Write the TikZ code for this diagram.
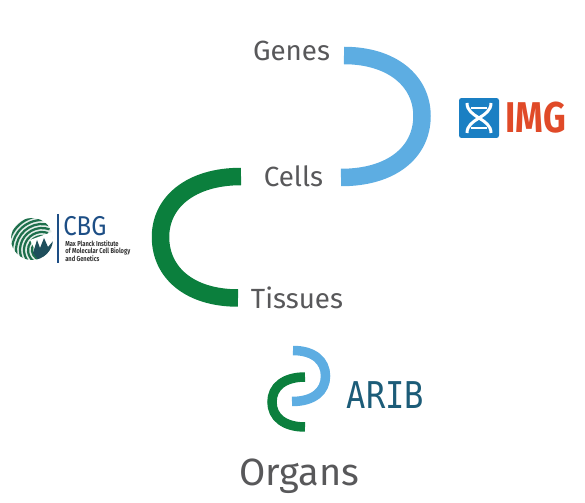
\documentclass[tikz,border=0pt]{standalone}
\usepackage{fontspec}
\setsansfont{Fira Sans}
\newfontfamily\monoarib{DejaVu Sans Mono}
\definecolor{arcblue}{HTML}{5DADE2}
\definecolor{arcgreen}{HTML}{0B7F3D}
\definecolor{labelgray}{HTML}{58585A}
\definecolor{imgblue}{HTML}{1A7FC3}
\definecolor{imgred}{HTML}{E04A28}
\definecolor{aribteal}{HTML}{1C5C78}
\definecolor{cbgblue}{HTML}{1D4E85}
\definecolor{cbggreen}{HTML}{1E6F4C}
\definecolor{cbgdark}{HTML}{1F4F5C}

\begin{document}
\begin{tikzpicture}[
  x=.02cm,y=-.02cm,
  font=\sffamily,
  stage/.style={text=labelgray,anchor=base,inner sep=0pt,font=\sffamily\fontsize{15.8}{18}\selectfont},
  bigarc/.style={line width=.35cm},
  smallarc/.style={line width=.19cm},
  stripe/.style={draw=cbggreen,line width=.045cm}
]
  \useasboundingbox (0,0) rectangle (585,503);

  \node[stage] (genes) at (291.5,61) {Genes};
  \node[stage] (cells) at (293.5,187) {Cells};
  \node[stage] (tissues) at (297,309) {Tissues};
  \node[stage,font=\sffamily\fontsize{21.6}{24}\selectfont] (organs) at (299,485) {Organs};

  % large arcs
  \coordinate (genesend) at (344,55.5);
  \coordinate (cellsend) at (341,177.5);
  \coordinate (cellsleft) at (241,176.5);
  \coordinate (tissuesend) at (238,298);
  \draw[bigarc,arcblue] (genesend) .. controls (392,55.5) and (422,81) .. (422,116)
    .. controls (422,152) and (392,177.5) .. (cellsend);
  \draw[bigarc,arcgreen] (cellsleft) .. controls (191,176.5) and (160.5,202) .. (160.5,237)
    .. controls (160.5,273) and (190,298) .. (tissuesend);

  % ARIB logo
  \coordinate (aribtop) at (293,350.5);
  \coordinate (aribmid) at (292,401.5);
  \coordinate (aribgreen) at (305,377);
  \coordinate (aribbot) at (305,427);
  \draw[smallarc,arcblue] (aribtop) .. controls (314,350.5) and (325.5,361) .. (325.5,376)
    .. controls (325.5,391) and (314,401.5) .. (aribmid);
  \draw[smallarc,arcgreen] (aribgreen) .. controls (284,377) and (272,387) .. (272,402)
    .. controls (272,417) and (284,427) .. (aribbot);
  \node[text=aribteal,inner sep=0pt,anchor=base,xscale=.87,transform shape,font=\monoarib\fontsize{21}{24}\selectfont] (arib) at (385.5,408) {ARIB};

  % IMG logo
  \node[fill=imgblue,rounded corners=.05cm,minimum width=.8cm,minimum height=.8cm,inner sep=0pt] (imgbox) at (479,118) {};
  \draw[white,line width=.06cm] (467,103) .. controls (467,118) and (491,118) .. (491,133);
  \draw[white,line width=.06cm] (491,103) .. controls (491,118) and (467,118) .. (467,133);
  \foreach \yy/\xa/\xb in {108/471/487,128/471/487}
    \draw[white,line width=.05cm] (\xa,\yy) -- (\xb,\yy);
  \node[text=imgred,inner sep=0pt,anchor=base west,xscale=.82,transform shape,font=\sffamily\bfseries\fontsize{24.5}{28}\selectfont] (img) at (505,133) {IMG};

  % CBG logo
  \begin{scope}
    \clip (32,239) circle (21);
    \fill[white!88!cbggreen] (32,239) circle (21);
    \foreach \rr in {10,14,18,22,26,30,34}
      \draw[stripe] (42,250) ++(60:\rr) arc[start angle=60,end angle=290,radius=\rr];
    \fill[white] (30,240) -- (52,232) -- (54,250) -- (36,252) -- cycle;
    \fill[cbgdark] (33,253) -- (37,240) -- (40,248) -- (44,238) -- (48,247) -- (54,240) -- (52,256) -- (40,262) -- cycle;
    \foreach \rr in {14,18,22}
      \draw[stripe] (20,270) ++(10:\rr) arc[start angle=10,end angle=70,radius=\rr];
  \end{scope}
  \draw[cbgblue,line width=.022cm] (58,214) -- (58,263);
  \node[text=cbgblue,inner sep=0pt,anchor=base west,xscale=.88,transform shape,font=\sffamily\fontsize{15.5}{18}\selectfont] (cbg) at (63,235.5) {CBG};
  \node[text=black!80,inner sep=0pt,anchor=north west,align=left,xscale=.8,transform shape,font=\sffamily\bfseries\fontsize{4.1}{4.4}\selectfont] (mpi) at (65,240) {Max Planck Institute\\of Molecular Cell Biology\\and Genetics};
\end{tikzpicture}
\end{document}
